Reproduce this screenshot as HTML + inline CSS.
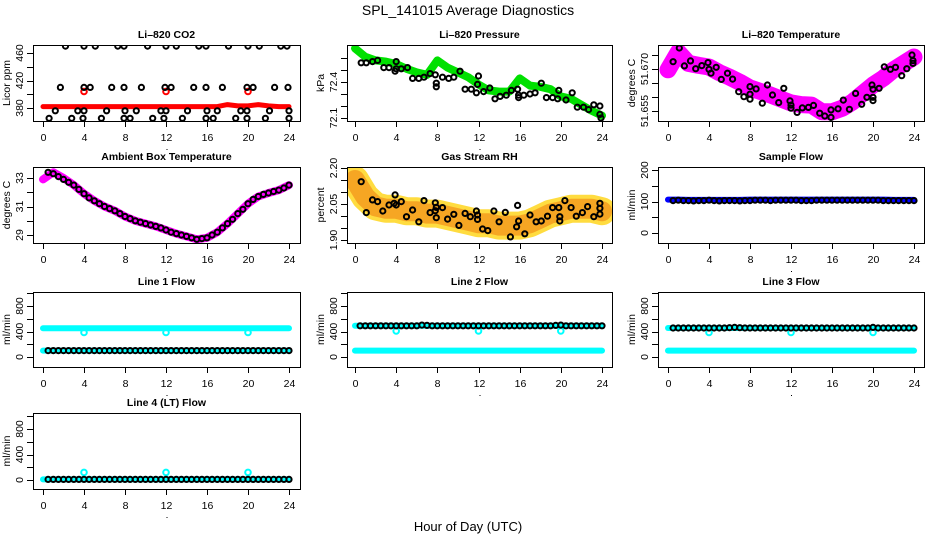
<!DOCTYPE html>
<html><head><meta charset="utf-8">
<style>
html,body{margin:0;padding:0;background:#fff;}
svg{display:block;font-family:"Liberation Sans",Arial,sans-serif;}
</style></head>
<body>
<svg id="chart" width="936" height="540" viewBox="0 0 936 540" xmlns="http://www.w3.org/2000/svg">
<text x="468" y="15" font-size="14" text-anchor="middle">SPL_141015  Average Diagnostics</text>
<text x="468" y="531" font-size="13" text-anchor="middle">Hour of Day (UTC)</text>
</svg>
<script>
// ---------- data ----------
const hours25 = [0,1,2,3,4,5,6,7,8,9,10,11,12,13,14,15,16,17,18,19,20,21,22,23,24];
const hours48 = [0.5,1,1.5,2,2.5,3,3.5,4,4.5,5,5.5,6,6.5,7,7.5,8,8.5,9,9.5,10,10.5,11,11.5,12,12.5,13,13.5,14,14.5,15,15.5,16,16.5,17,17.5,18,18.5,19,19.5,20,20.5,21,21.5,22,22.5,23,23.5,24];

// Li-820 CO2
const co2Red = [382,382,382,382,382,382,382,382,382,382,382,382,382,382,382,382,382,382,385,383,383,385,383,382,382];
const co2RedOutH = [4,12,20];
const co2RedOutV = [404,404,404];
const co2TopH = [2.2,4,5.1,7.3,7.9,10.2,12,13,15.2,15.9,18.1,20,21.1,23.2,23.8];
const co2TopV = [470,470,470,470,470,470,470,470,470,470,470,470,470,470,470];
const co2MidH = [1.7,4,4.6,6.7,7.9,9.6,11.9,12.5,14.7,15.9,17.5,19.9,20.5,22.6,23.9];
const co2MidV = [410,410,410,410,410,410,410,410,410,410,410,410,410,410,410];
const co2LowH = [1.2,3.4,4,6.2,8,9.1,11.5,12,14.1,16,17,19.3,19.9,22.1,24];
const co2LowV = [376,376,376,376,376,376,376,376,376,376,376,376,376,376,376];
const co2BotH = [0.6,2.8,3.9,5.7,7.9,8.5,10.7,11.8,13.6,15.9,16.6,18.8,19.9,21.7,24];
const co2BotV = [365,365,365,365,365,365,365,365,365,365,365,365,365,365,365];

// Li-820 Pressure
const presGreen = [72.68,72.61,72.58,72.57,72.55,72.51,72.48,72.46,72.58,72.52,72.48,72.44,72.38,72.33,72.32,72.32,72.43,72.37,72.36,72.34,72.28,72.26,72.21,72.16,72.12];
const presBlackH = [0.6,1.1,1.7,2.2,2.8,3.3,3.9,4,4,4.5,5.1,5.6,6.2,6.7,7.3,7.8,7.9,7.9,8.5,9.1,9.6,10.2,10.7,11.3,11.8,11.9,12,12.5,13.1,13.6,14.1,14.7,15.2,15.8,15.9,15.9,16.4,17,17.5,18.1,18.6,19.2,19.7,19.8,20.5,21.1,21.6,22.2,22.7,23.2,23.8,23.8,23.9];
const presBlackV = [72.56,72.56,72.57,72.58,72.52,72.52,72.49,72.57,72.51,72.51,72.52,72.43,72.43,72.44,72.47,72.46,72.39,72.36,72.44,72.43,72.44,72.49,72.34,72.34,72.31,72.38,72.45,72.32,72.35,72.26,72.28,72.29,72.33,72.34,72.29,72.27,72.29,72.30,72.31,72.39,72.27,72.27,72.26,72.33,72.25,72.31,72.19,72.19,72.17,72.21,72.20,72.13,72.10];

// Li-820 Temperature
const tempMag = [51.6697,51.676,51.672,51.6713,51.6707,51.6687,51.6671,51.6653,51.6632,51.662,51.6607,51.6593,51.6579,51.6573,51.6571,51.6547,51.6547,51.656,51.6582,51.6613,51.6643,51.6667,51.6697,51.672,51.6743];
const tempBlackH = [0.5,1.1,1.6,2.2,2.7,3.3,3.9,4.0,4.2,4.7,5.2,5.8,6.3,6.9,7.4,8.0,8.0,8.0,8.6,9.2,9.7,10.2,10.8,11.3,11.9,12.0,12.0,12.6,13.1,13.7,14.2,14.8,15.3,15.9,15.9,16.6,17.1,17.7,18.3,18.9,19.4,19.9,20.0,20.0,20.0,20.6,21.1,21.7,22.2,22.8,23.3,23.8,23.9,23.9];
const tempBlackV = [51.6726,51.6775,51.6711,51.6729,51.6701,51.6712,51.6723,51.6699,51.6685,51.6706,51.6663,51.6685,51.6664,51.6619,51.6601,51.6637,51.6610,51.6592,51.6629,51.6578,51.6643,51.6607,51.6580,51.6631,51.6586,51.6571,51.6560,51.6545,51.6561,51.6563,51.6570,51.6542,51.6532,51.6554,51.6527,51.6558,51.6589,51.6556,51.6613,51.6574,51.6599,51.6643,51.6628,51.6599,51.6587,51.6631,51.6708,51.6699,51.6706,51.6676,51.6701,51.6750,51.6720,51.6730];

// Ambient Box Temperature
const ambMag = [32.9,33.4,33.0,32.5,31.9,31.4,31.0,30.7,30.3,30.0,29.8,29.6,29.35,29.1,28.9,28.7,28.8,29.2,29.8,30.5,31.2,31.7,31.95,32.15,32.5];
const ambBlack = [33.4,33.3,33.1,32.9,32.7,32.5,32.2,31.9,31.6,31.4,31.2,31.0,30.85,30.7,30.5,30.3,30.15,30.0,29.9,29.8,29.7,29.6,29.5,29.35,29.2,29.1,29.0,28.9,28.8,28.7,28.75,28.8,29.0,29.2,29.5,29.8,30.1,30.5,30.8,31.2,31.5,31.7,31.85,31.95,32.05,32.15,32.3,32.5];

// Gas Stream RH
const rhOrange = [2.15,2.08,2.04,2.03,2.03,2.02,2.02,2.01,2.01,2.0,1.99,1.98,1.97,1.97,1.96,1.96,1.96,1.97,1.99,2.01,2.02,2.03,2.03,2.03,2.02];
const rhBlackH = [0.6,1.1,1.7,2.2,2.7,3.3,3.8,3.9,4.0,4.5,5.0,5.6,6.2,6.7,7.3,7.8,7.8,7.9,7.9,8.5,9.0,9.6,10.1,10.7,11.2,11.8,11.9,11.9,12.4,12.9,13.5,14.0,14.6,15.1,15.7,15.8,15.9,16.5,17.0,17.6,18.1,18.7,19.2,19.8,19.9,19.9,20.4,21.0,21.5,22.1,22.6,23.2,23.8,23.8,23.8];
const rhBlackV = [2.143,2.014,2.067,2.060,2.021,2.046,2.053,2.088,2.046,2.060,1.997,2.025,1.976,2.064,2.014,2.055,2.022,2.036,1.993,2.035,1.987,2.007,1.961,2.011,1.997,2.021,2.004,1.986,1.946,1.939,2.021,1.976,2.015,1.913,1.955,2.044,1.979,1.926,2.004,1.976,1.979,1.999,2.035,2.035,1.997,1.979,2.064,2.035,1.999,2.014,2.039,1.997,2.032,2.008,2.053];

// Sample Flow
const sampleBlue = [106,106,105,105,105,105,105,105,106,106,106,106,106,106,106,106,106,106,106,106,106,106,105,105,105];
const sampleBlack = [103,104,103,103,102,103,103,104,103,102,103,103,103,102,103,103,104,104,104,103,104,104,104,104,104,103,103,103,104,104,104,104,104,104,104,104,104,104,104,104,104,103,103,103,103,103,103,103];

// Line flows
const line1CyanTop = [450,450,450,450,450,450,450,450,452,452,452,452,452,452,452,452,452,452,452,452,450,450,450,450,450];
const line1CyanBot = [100,100,100,100,100,100,100,100,100,100,100,100,100,100,100,100,100,100,100,100,100,100,100,100,100];
const line1Black = [100,100,100,100,100,100,100,100,100,100,100,100,100,100,100,100,100,100,100,100,100,100,100,100,100,100,100,100,100,100,100,100,100,100,100,100,100,100,100,100,100,100,100,100,100,100,100,100];
const line1OutH = [4,12,20];
const line1OutV = [385,385,385];

const line2CyanTop = [490,490,490,490,490,490,490,490,490,490,490,490,490,490,490,490,490,490,490,490,490,490,490,490,490];
const line2CyanBot = [100,100,100,100,100,100,100,100,100,100,100,100,100,100,100,100,100,100,100,100,100,100,100,100,100];
const line2Black = [490,490,490,490,490,490,490,490,490,490,490,490,500,495,490,490,490,490,490,490,490,490,490,490,490,490,490,490,490,490,490,490,490,490,490,490,490,490,495,500,490,490,490,490,490,490,490,490];
const line2OutH = [4,12,20];
const line2OutV = [410,410,410];

const line3CyanTop = [455,455,455,455,455,455,455,455,455,455,455,455,455,455,455,455,455,455,455,455,455,455,455,455,455];
const line3CyanBot = [100,100,100,100,100,100,100,100,100,100,100,100,100,100,100,100,100,100,100,100,100,100,100,100,100];
const line3Black = [455,455,455,455,455,455,455,455,455,455,455,460,465,460,455,455,455,455,455,455,455,455,455,455,455,455,455,455,455,455,455,455,455,455,455,455,455,455,455,465,455,455,455,455,455,455,455,455];
const line3OutH = [4,12,20];
const line3OutV = [385,385,385];

const line4Cyan = [10,10,10,10,10,10,10,10,10,10,10,10,10,10,10,10,10,10,10,10,10,10,10,10,10];
const line4Black = [10,10,10,10,10,10,10,10,10,10,10,10,10,10,10,10,10,10,10,10,10,10,10,10,10,10,10,10,10,10,10,10,10,10,10,10,10,10,10,10,10,10,10,10,10,10,10,10];
const line4OutH = [4,12,20];
const line4OutV = [120,120,120];

const xTickValues = [0,4,8,12,16,20,24];

// ---------- layout ----------
const NS = "http://www.w3.org/2000/svg";
const svg = document.getElementById('chart');
const COLS = [{bx0:33,bx1:300,x0:43,x24:289},{bx0:347,bx1:612,x0:355,x24:602},{bx0:658,bx1:924,x0:668,x24:914}];
const ROWS = [{by0:45,by1:121},{by0:167,by1:243},{by0:292,by1:367},{by0:413,by1:489}];

function el(tag, attrs, parent){
  const e = document.createElementNS(NS, tag);
  for (const k in attrs) e.setAttribute(k, attrs[k]);
  (parent||svg).appendChild(e);
  return e;
}

function makePanel(cfg){
  const c = COLS[cfg.col], r = ROWS[cfg.row];
  const g = el('g', {});
  
  
  const xs = h => c.x0 + (c.x24 - c.x0) * h / 24;
  const ys = v => cfg.ref[1] + (v - cfg.ref[0]) * (cfg.ref[3] - cfg.ref[1]) / (cfg.ref[2] - cfg.ref[0]);
  const clipId = 'clip-' + cfg.name;
  const cp = el('clipPath', {id: clipId}, g);
  el('rect', {x:c.bx0, y:r.by0, width:c.bx1-c.bx0, height:r.by1-r.by0}, cp);
  const plot = el('g', {'clip-path':'url(#'+clipId+')'}, g);
  
  
  const t = el('text', {x:(c.bx0+c.bx1)/2, y:r.by0-7, 'font-size':10.5, 'font-weight':'bold', 'text-anchor':'middle'}, g);
  t.textContent = cfg.title;
  
  
  const box = el('rect', {x:c.bx0+0.5, y:r.by0+0.5, width:c.bx1-c.bx0, height:r.by1-r.by0, fill:'none', stroke:'#000', 'stroke-width':1}, g);
  
  
  const xa = el('g', {}, g);
  
  
  xTickValues.forEach(h => {
    const x = Math.round(xs(h)) + 0.5;
    el('line', {x1:x, x2:x, y1:r.by1, y2:r.by1+6, stroke:'#000'}, xa);
    const tl = el('text', {x:x, y:r.by1+20, 'font-size':10.5, 'text-anchor':'middle'}, xa);
    tl.textContent = h;
  });
  el('rect', {x:(c.bx0+c.bx1)/2, y:r.by1+28, width:1, height:1, fill:'#000'}, xa);
  const ya = el('g', {}, g);
  
  
  cfg.yticks.forEach(v => {
    const y = Math.round(ys(v)) + 0.5;
    el('line', {x1:c.bx0-6, x2:c.bx0, y1:y, y2:y, stroke:'#000'}, ya);
  });
  cfg.ylabels.forEach((lab, i) => {
    const y = ys(cfg.ylabelVals[i]);
    const tl = el('text', {x:0, y:0, 'font-size':10.5, 'text-anchor':'middle', transform:'translate('+(c.bx0-10)+','+y+') rotate(-90)'}, ya);
    tl.textContent = lab;
  });
  const yt = el('text', {x:0, y:0, 'font-size':10.5, 'text-anchor':'middle', transform:'translate('+(c.bx0-23)+','+((r.by0+r.by1)/2)+') rotate(-90)'}, ya);
  yt.textContent = cfg.ylab;
  
  
  return {plot, xs, ys};
}

function band(p, name, hs, vs, color, width){
  const pts = hs.map((h,i) => p.xs(h).toFixed(1)+','+p.ys(vs[i]).toFixed(1)).join(' ');
  const pl = el('polyline', {points:pts, fill:'none', stroke:color, 'stroke-width':width, 'stroke-linejoin':'round', 'stroke-linecap':'round'}, p.plot);
  
  
}
function points(p, name, hs, vs, color, rad, sw){
  const g = el('g', {}, p.plot);
  
  
  hs.forEach((h,i) => {
    el('circle', {cx:p.xs(h).toFixed(1), cy:p.ys(vs[i]).toFixed(1), r:rad, fill:'none', stroke:color, 'stroke-width':sw}, g);
  });
}

const flowTicks = [0,200,400,600,800,1000];
let p = makePanel({name:'co2', col:0, row:0, title:'Li\u2013820 CO2', ylab:'Licor ppm', ref:[380,108,460,53], yticks:[380,400,420,440,460], ylabels:['380','420','460'], ylabelVals:[380,420,460]});
band(p, 'co2-red-series', hours25, co2Red, '#ff0000', 5);
points(p, 'co2-red-outliers', co2RedOutH, co2RedOutV, '#ff0000', 2.8, 2);
points(p, 'co2-black-top', co2TopH, co2TopV, '#000', 2.6, 2);
points(p, 'co2-black-mid', co2MidH, co2MidV, '#000', 2.6, 2);
points(p, 'co2-black-low', co2LowH, co2LowV, '#000', 2.6, 2);
points(p, 'co2-black-bottom', co2BotH, co2BotV, '#000', 2.6, 2);

p = makePanel({name:'pressure', col:1, row:0, title:'Li\u2013820 Pressure', ylab:'kPa', ref:[72.4,82,72.1,118], yticks:[72.1,72.2,72.3,72.4,72.5,72.6], ylabels:['72.1','72.4'], ylabelVals:[72.1,72.4]});
band(p, 'pressure-green-series', hours25, presGreen, '#00e000', 8);
points(p, 'pressure-black-points', presBlackH, presBlackV, '#000', 2.6, 2);

p = makePanel({name:'temperature', col:2, row:0, title:'Li\u2013820 Temperature', ylab:'degrees C', ref:[51.670,69,51.655,111], yticks:[51.655,51.660,51.665,51.670,51.675], ylabels:['51.655','51.670'], ylabelVals:[51.655,51.670]});
band(p, 'temperature-magenta-series', hours25, tempMag, '#ff00ff', 17);
points(p, 'temperature-black-points', tempBlackH, tempBlackV, '#000', 2.6, 2);

p = makePanel({name:'ambient', col:0, row:1, title:'Ambient Box Temperature', ylab:'degrees C', ref:[33,178,29,235], yticks:[29,30,31,32,33], ylabels:['29','31','33'], ylabelVals:[29,31,33]});
band(p, 'ambient-magenta-series', hours25, ambMag, '#ff00ff', 8);
points(p, 'ambient-black-points', hours48, ambBlack, '#000', 2.6, 2);

p = makePanel({name:'rh', col:1, row:1, title:'Gas Stream RH', ylab:'percent', ref:[2.20,168,1.90,240], yticks:[1.90,1.95,2.00,2.05,2.10,2.15,2.20], ylabels:['1.90','2.05','2.20'], ylabelVals:[1.90,2.05,2.20]});
band(p, 'rh-yellow-series', hours25, rhOrange, '#ffdc40', 28);
band(p, 'rh-orange-series', hours25, rhOrange, '#f6a623', 20);
points(p, 'rh-black-points', rhBlackH, rhBlackV, '#000', 2.6, 2);

p = makePanel({name:'sample-flow', col:2, row:1, title:'Sample Flow', ylab:'ml/min', ref:[200,170,0,233], yticks:[0,50,100,150,200], ylabels:['0','100','200'], ylabelVals:[0,100,200]});
band(p, 'sample-flow-blue-series', hours25, sampleBlue, '#0000ff', 6);
points(p, 'sample-flow-black-points', hours48, sampleBlack, '#000', 2.6, 2);

p = makePanel({name:'line1-flow', col:0, row:2, title:'Line 1 Flow', ylab:'ml/min', ref:[0,357,800,306], yticks:flowTicks, ylabels:['0','400','800'], ylabelVals:[0,400,800]});
band(p, 'line1-cyan-high', hours25, line1CyanTop, '#00ffff', 6);
band(p, 'line1-cyan-low', hours25, line1CyanBot, '#00ffff', 6);
points(p, 'line1-cyan-outliers', line1OutH, line1OutV, '#00ffff', 2.8, 2);
points(p, 'line1-black-points', hours48, line1Black, '#000', 2.6, 2);

p = makePanel({name:'line2-flow', col:1, row:2, title:'Line 2 Flow', ylab:'ml/min', ref:[0,357,800,306], yticks:flowTicks, ylabels:['0','400','800'], ylabelVals:[0,400,800]});
band(p, 'line2-cyan-high', hours25, line2CyanTop, '#00ffff', 6);
band(p, 'line2-cyan-low', hours25, line2CyanBot, '#00ffff', 6);
points(p, 'line2-cyan-outliers', line2OutH, line2OutV, '#00ffff', 2.8, 2);
points(p, 'line2-black-points', hours48, line2Black, '#000', 2.6, 2);

p = makePanel({name:'line3-flow', col:2, row:2, title:'Line 3 Flow', ylab:'ml/min', ref:[0,357,800,306], yticks:flowTicks, ylabels:['0','400','800'], ylabelVals:[0,400,800]});
band(p, 'line3-cyan-high', hours25, line3CyanTop, '#00ffff', 6);
band(p, 'line3-cyan-low', hours25, line3CyanBot, '#00ffff', 6);
points(p, 'line3-cyan-outliers', line3OutH, line3OutV, '#00ffff', 2.8, 2);
points(p, 'line3-black-points', hours48, line3Black, '#000', 2.6, 2);

p = makePanel({name:'line4-flow', col:0, row:3, title:'Line 4 (LT) Flow', ylab:'ml/min', ref:[0,480,800,429], yticks:flowTicks, ylabels:['0','400','800'], ylabelVals:[0,400,800]});
band(p, 'line4-cyan-series', hours25, line4Cyan, '#00ffff', 6);
points(p, 'line4-cyan-outliers', line4OutH, line4OutV, '#00ffff', 2.8, 2);
points(p, 'line4-black-points', hours48, line4Black, '#000', 2.6, 2);
</script>
</body></html>
